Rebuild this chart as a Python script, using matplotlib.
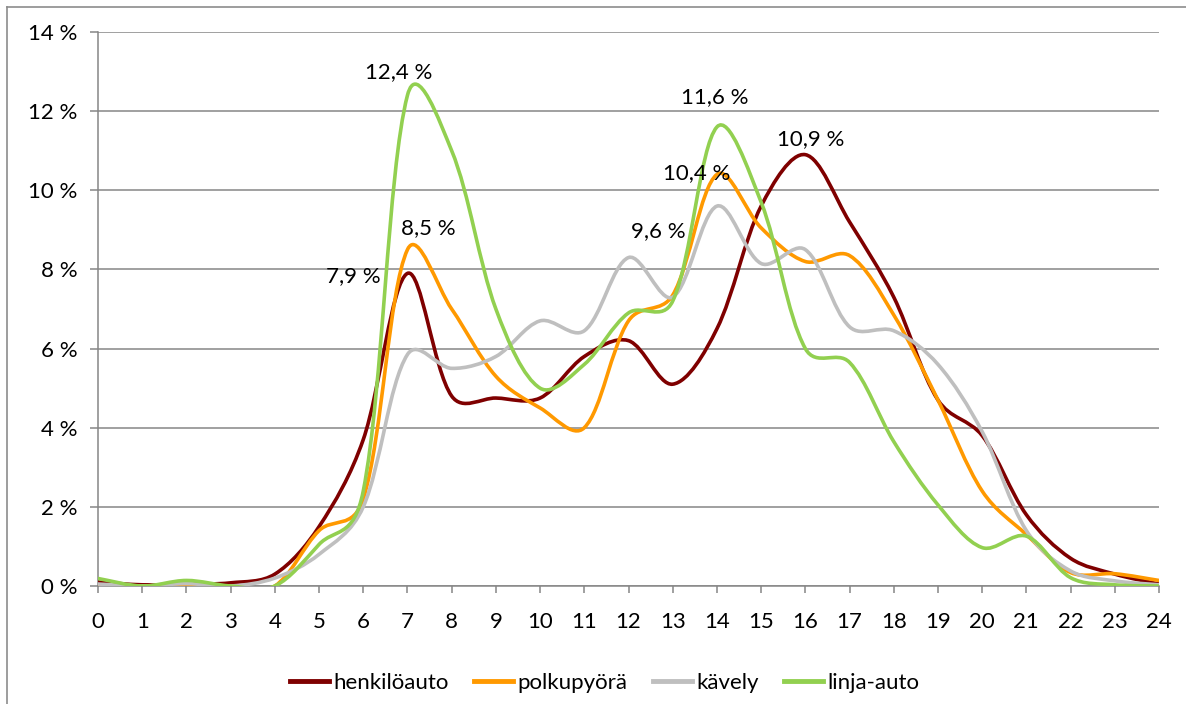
import numpy as np
import matplotlib.pyplot as plt
from matplotlib.path import Path
from matplotlib.patches import PathPatch
from matplotlib.lines import Line2D

plt.rcParams['font.family'] = ['Lato', 'DejaVu Sans']

# hours of the day and share of trips started (%)
hours = list(range(25))
henkiloauto = [0.1, 0.03, 0.05, 0.08, 0.3, 1.5, 3.7, 7.9, 4.8, 4.75, 4.75, 5.8, 6.2,
               5.1, 6.5, 9.6, 10.9, 9.2, 7.3, 4.7, 3.8, 1.8, 0.7, 0.3, 0.05]
polkupyora = [0.0, 0.0, 0.0, 0.0, 0.0, 1.4, 2.2, 8.5, 7.0, 5.3, 4.5, 4.0, 6.7,
              7.35, 10.4, 9.05, 8.2, 8.35, 6.85, 4.7, 2.4, 1.3, 0.34, 0.31, 0.14]
kavely = [0.05, 0.0, 0.06, 0.0, 0.2, 0.8, 2.0, 5.85, 5.5, 5.8, 6.7, 6.45, 8.3,
          7.3, 9.6, 8.15, 8.5, 6.55, 6.45, 5.6, 3.9, 1.4, 0.38, 0.13, 0.03]
linja_auto = [0.19, 0.0, 0.14, 0.0, 0.0, 1.05, 2.4, 12.4, 11.0, 7.0, 5.0, 5.6, 6.9,
              7.2, 11.6, 9.7, 6.0, 5.65, 3.65, 2.05, 0.97, 1.26, 0.21, 0.03, 0.0]

series_names = ['henkilöauto', 'polkupyörä', 'kävely', 'linja-auto']
series_values = [henkiloauto, polkupyora, kavely, linja_auto]
colors = ['#7f0000', '#ff9900', '#bfbfbf', '#92d050']

# data labels: (series index, hour)
label_points = [(3, 7), (1, 7), (0, 7), (2, 14), (1, 14), (3, 14), (0, 16)]
label_offsets = [(-9, 23), (21, 22), (-54, -3), (-59, -25), (-20, 1), (-2, 30), (5, 16)]

y_ticks = [0, 2, 4, 6, 8, 10, 12, 14]


def smooth_path(ax, x, y):
    """Excel-like smoothed line: bezier segments, tangent half catmull-rom,
    half weighted by screen chord length."""
    pts = ax.transData.transform(np.column_stack([x, y]).astype(float))
    n = len(pts)
    verts = [pts[0]]
    codes = [Path.MOVETO]
    out_ctrl = []
    in_ctrl = []
    for i in range(n):
        prev = pts[i - 1] if i > 0 else pts[i]
        nxt = pts[i + 1] if i < n - 1 else pts[i]
        d_prev = np.hypot(*(pts[i] - prev))
        d_next = np.hypot(*(nxt - pts[i]))
        tot = d_prev + d_next
        t = nxt - prev
        f_out = 0.5 / 6 + 0.5 * d_next / (3 * tot)
        f_in = 0.5 / 6 + 0.5 * d_prev / (3 * tot)
        out_ctrl.append(pts[i] + t * f_out)
        in_ctrl.append(pts[i] - t * f_in)
    for i in range(n - 1):
        verts += [out_ctrl[i], in_ctrl[i + 1], pts[i + 1]]
        codes += [Path.CURVE4] * 3
    verts = ax.transData.inverted().transform(np.array(verts))
    return Path(verts, codes)


fig = plt.figure(figsize=(11.86, 7.04), dpi=100)
ax = fig.add_axes([98 / 1186, 1 - 586 / 704, (1159 - 98) / 1186, (586 - 32) / 704])
ax.set_xlim(0, 24)
ax.set_ylim(0, 14)

grid_col = '#868686'

for name, vals, c in zip(series_names, series_values, colors):
    patch = PathPatch(smooth_path(ax, hours, vals), fill=False, edgecolor=c, lw=2.6,
                      capstyle='round', joinstyle='round', zorder=3)
    ax.add_patch(patch)

# data labels
for (si, h), off in zip(label_points, label_offsets):
    v = series_values[si][h]
    ax.annotate(f"{v:.1f} %".replace('.', ','), xy=(h, v), xytext=off,
                textcoords='offset pixels', ha='center', va='center',
                fontsize=16, color='black', zorder=5)

ax.set_xticks(hours)
ax.set_yticks(y_ticks)
ax.set_yticklabels([f"{t} %" for t in y_ticks])
ax.yaxis.grid(True, color=grid_col, lw=1.1)
ax.set_axisbelow(True)

for s in ['top', 'right']:
    ax.spines[s].set_visible(False)
for s in ['left', 'bottom']:
    ax.spines[s].set_color(grid_col)
    ax.spines[s].set_linewidth(1.1)

ax.tick_params(axis='y', length=6, width=1.1, color=grid_col, pad=9, labelsize=16)
ax.tick_params(axis='x', length=5, width=1.1, color=grid_col, pad=14, labelsize=16)

# legend
handles = [Line2D([], [], color=c, lw=3.5) for c in colors]
fig.legend(handles, series_names, loc='center', bbox_to_anchor=(0.51, 1 - 683 / 704),
           ncol=4, frameon=False, fontsize=16, handlelength=1.75, handletextpad=0.2,
           columnspacing=1.15)

# chart area border (left and top visible in the crop)
fig.add_artist(Line2D([7 / 1186, 7 / 1186], [0, 1 - 7 / 704], color='#8c8c8c', lw=1.2,
                      transform=fig.transFigure))
fig.add_artist(Line2D([7 / 1186, 1], [1 - 7 / 704, 1 - 7 / 704], color='#8c8c8c', lw=1.2,
                      transform=fig.transFigure))

fig.savefig('out.png', dpi=100)
